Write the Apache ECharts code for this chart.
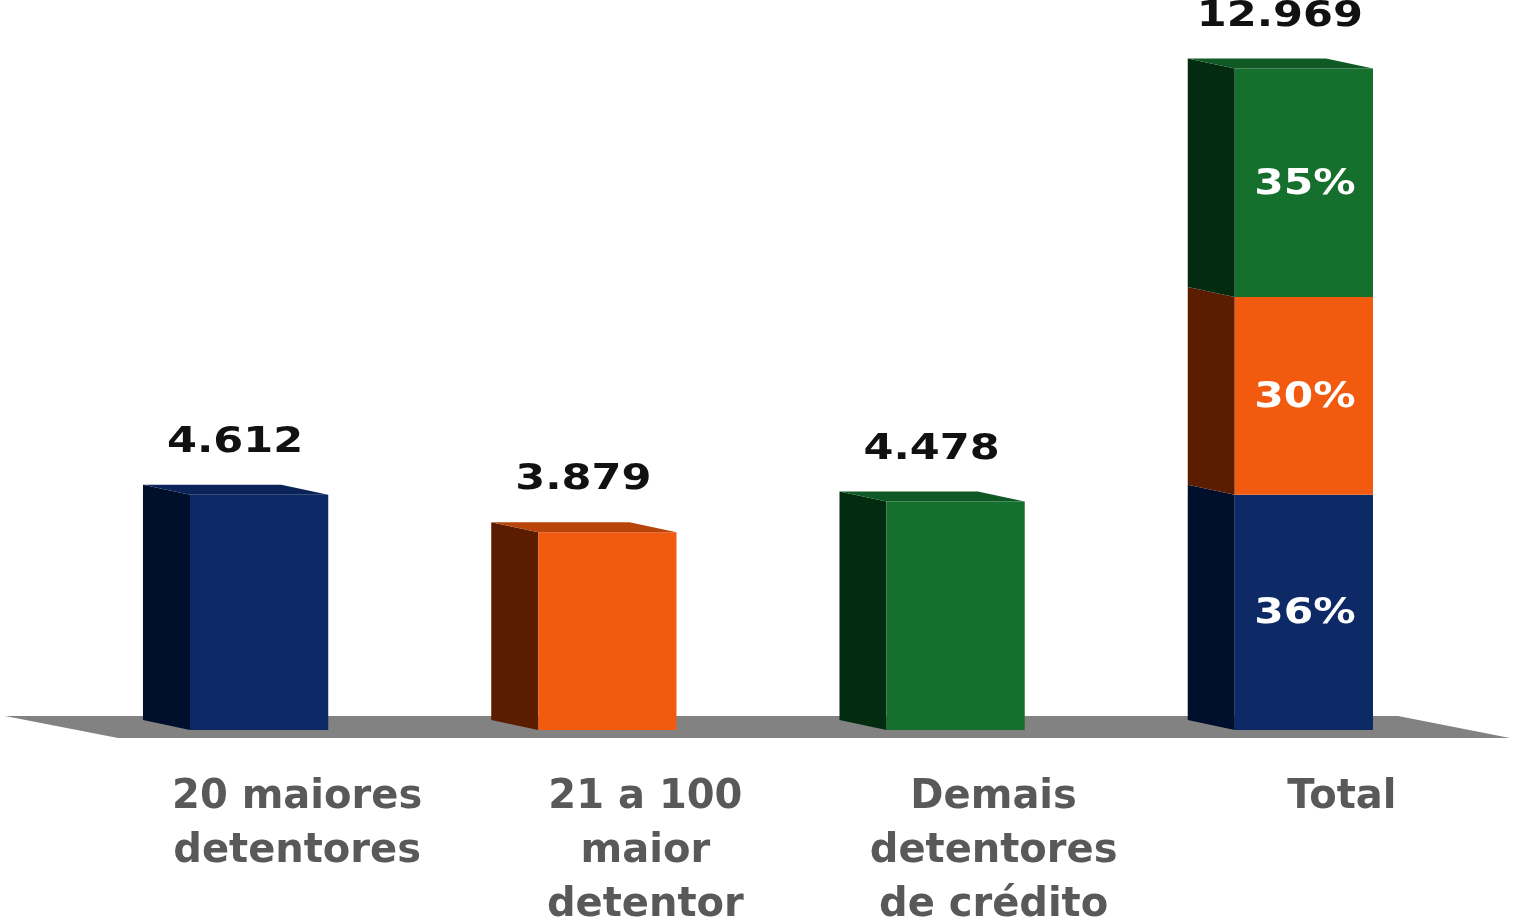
<!DOCTYPE html>
<html><head><meta charset="utf-8">
<script src="https://cdn.jsdelivr.net/npm/echarts@6/dist/echarts.min.js"></script>
<style>html,body{margin:0;padding:0;background:#fff}#c{width:1513px;height:921px}</style>
</head><body><div id="c"></div>
<script>
// ---- data ----
const categories = ['20 maiores\ndetentores', '21 a 100\nmaior\ndetentor', 'Demais\ndetentores\nde crédito', 'Total'];
const groupValues = [4612, 3879, 4478];
const frontColors = ['#0D2A66', '#F25A10', '#15702E'];
const sideColors = ['#000F2B', '#5A1D00', '#032B0F'];
const topColors = ['#0A2358', '#B8440A', '#0F5A24'];

function fmt(v) { return String(v).replace(/\B(?=(\d{3})+(?!\d))/g, '.'); }

const total = groupValues.reduce((a, b) => a + b, 0);
const marks = [];
groupValues.forEach((v, i) => {
  marks.push({ value: [i, 0, v, i], top: true, label: fmt(v), pct: null });
});
let acc = 0;
groupValues.forEach((v, i) => {
  const last = i === groupValues.length - 1;
  marks.push({ value: [3, acc, acc + v, i], top: last, label: last ? fmt(total) : null,
               pct: Math.round(v / total * 100) + '%' });
  acc += v;
});

const FONT = 'bold 35px "DejaVu Sans"';

function renderBox(params, api) {
  const m = marks[params.dataIndex];
  const cat = api.value(0), v0 = api.value(1), v1 = api.value(2), ci = api.value(3);
  const pBot = api.coord([cat, v0]);
  const pTop = api.coord([cat, v1]);
  const band = api.size([1, 0])[0];
  const fw = band * 0.397, dx = band * 0.135, dy = 10;
  const cx = pBot[0];
  const x0 = cx - fw / 2, x1 = cx + fw / 2;
  const yb = pBot[1], yt = pTop[1];
  const children = [
    { type: 'polygon', shape: { points: [[x0 - dx, yt - dy], [x0, yt], [x0, yb], [x0 - dx, yb - dy]] },
      style: { fill: sideColors[ci] } },
    { type: 'rect', shape: { x: x0, y: yt, width: fw, height: yb - yt }, style: { fill: frontColors[ci] } }
  ];
  if (m.top) {
    children.push({ type: 'polygon', shape: { points: [[x0 - dx, yt - dy], [x1 - dx, yt - dy], [x1, yt], [x0, yt]] },
      style: { fill: topColors[ci] } });
  }
  if (m.label) {
    children.push({ type: 'text', x: cx - 24, y: yt - 52, scaleX: 1.23,
      style: { text: m.label, font: FONT, fill: '#111', align: 'center', verticalAlign: 'middle',
               textAlign: 'center', textVerticalAlign: 'middle' } });
  }
  if (m.pct) {
    children.push({ type: 'text', x: cx + 1, y: (yt + yb) / 2 + 2, scaleX: 1.21,
      style: { text: m.pct, font: FONT, fill: '#fff', align: 'center', verticalAlign: 'middle',
               textAlign: 'center', textVerticalAlign: 'middle' } });
  }
  return { type: 'group', children };
}

function renderFloor(params, api) {
  const cs = params.coordSys;
  const y0 = api.coord([0, 0])[1];
  const L = cs.x, R = cs.x + cs.width;
  return { type: 'polygon', shape: { points: [[L - 80, y0 - 14], [R - 80, y0 - 14], [R + 32, y0 + 8], [L + 33, y0 + 8]] },
           style: { fill: '#828282' } };
}

const chart = echarts.init(document.getElementById('c'), null, { renderer: 'canvas' });
chart.setOption({
  animation: false,
  backgroundColor: '#fff',
  grid: { left: 85, right: 35, top: 16, bottom: 191, containLabel: false, outerBoundsMode: 'none' },
  xAxis: {
    type: 'category', data: categories, boundaryGap: true,
    axisLine: { show: false }, axisTick: { show: false }, splitLine: { show: false },
    axisLabel: { interval: 0, color: '#595959', fontSize: 40, fontWeight: 'bold', fontFamily: 'DejaVu Sans',
                 lineHeight: 54, margin: 41, padding: [0, 0, 0, 76] }
  },
  yAxis: { type: 'value', min: 0, max: 14000, show: false, splitLine: { show: false } },
  series: [
    { type: 'custom', renderItem: renderFloor, data: [[0, 0]], silent: true, z: 1 },
    { type: 'custom', renderItem: renderBox, data: marks.map(m => m.value), silent: true, z: 2,
      encode: { x: 0, y: [1, 2] } }
  ]
});
</script>
</body></html>
